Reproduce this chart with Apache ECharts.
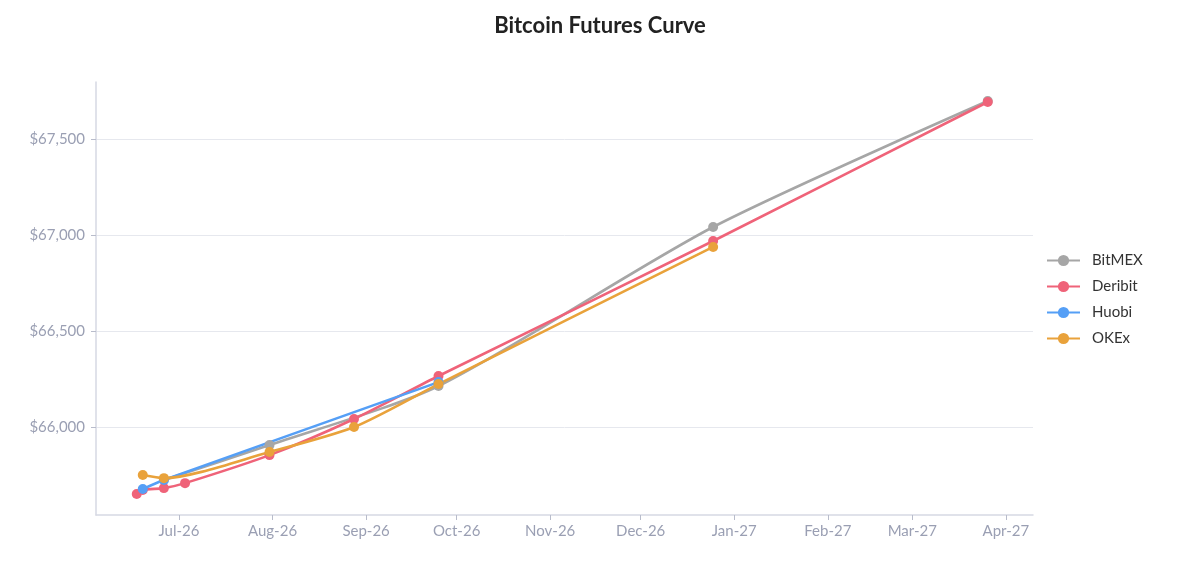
<!DOCTYPE html>
<html>
<head>
<meta charset="utf-8">
<script src="https://cdn.jsdelivr.net/npm/echarts@6/dist/echarts.min.js"></script>
<style>
html,body{margin:0;padding:0;background:#fff;}
#chart{width:1200px;height:584px;}
</style>
</head>
<body>
<div id="chart"></div>
<script>
const seriesNames = ['BitMEX', 'Deribit', 'Huobi', 'OKEx'];
const bitmexDates = ['2026-06-26', '2026-07-31', '2026-09-25', '2026-12-25', '2027-03-26'];
const bitmexValues = [65724, 65906, 66214, 67042, 67698];
const deribitDates = ['2026-06-17', '2026-06-19', '2026-06-26', '2026-07-03', '2026-07-31', '2026-08-28', '2026-09-25', '2026-12-25', '2027-03-26'];
const deribitValues = [65651, 65672, 65682, 65708, 65854, 66042, 66266, 66969, 67693];
const huobiDates = ['2026-06-19', '2026-06-26', '2026-09-25'];
const huobiValues = [65677, 65724, 66234];
const okexDates = ['2026-06-19', '2026-06-26', '2026-07-31', '2026-08-28', '2026-09-25', '2026-12-25'];
const okexValues = [65750, 65734, 65870, 66000, 66224, 66938];
const xTicks = ['2026-07-01', '2026-08-01', '2026-09-01', '2026-10-01', '2026-11-01', '2026-12-01', '2027-01-01', '2027-02-01', '2027-03-01', '2027-04-01'];
const yTicks = [66000, 66500, 67000, 67500];
const colors = ['#a6a6a6', '#ef6379', '#559ff6', '#e9a23b'];

function ts(s) { return Date.parse(s + 'T00:00:00Z'); }
function pts(d, v) { return d.map((x, i) => [ts(x), v[i]]); }
const monthNames = ['Jan','Feb','Mar','Apr','May','Jun','Jul','Aug','Sep','Oct','Nov','Dec'];
function fmtX(v) {
  const d = new Date(v);
  return monthNames[d.getUTCMonth()] + '-' + String(d.getUTCFullYear()).slice(2);
}
function fmtY(v) {
  return '$' + String(Math.round(v)).replace(/\B(?=(\d{3})+(?!\d))/g, ',');
}
const allData = [pts(bitmexDates, bitmexValues), pts(deribitDates, deribitValues), pts(huobiDates, huobiValues), pts(okexDates, okexValues)];
const xTickVals = xTicks.map(ts);
const FONT = 'Lato, "Noto Sans", sans-serif';
const chart = echarts.init(document.getElementById('chart'), null, {renderer: 'canvas'});
chart.setOption({
  animation: false,
  color: colors,
  title: {
    text: 'Bitcoin Futures Curve',
    left: 'center',
    top: 10,
    textStyle: {fontFamily: FONT, fontSize: 22, fontWeight: 'bold', color: '#222'}
  },
  legend: {
    orient: 'vertical',
    left: 1041,
    top: 248,
    itemWidth: 33,
    itemHeight: 14,
    itemGap: 11,
    data: seriesNames,
    textStyle: {fontFamily: FONT, fontSize: 15, color: '#333', padding: [0, 0, 0, 7]}
  },
  grid: {left: 96, top: 82, width: 937, height: 433, containLabel: false},
  xAxis: {
    type: 'value',
    min: ts('2026-06-03') + 12 * 3600000,
    max: ts('2027-04-10'),
    axisLine: {show: true, lineStyle: {color: '#d6d9e3', width: 1.5}},
    axisTick: {show: true, length: 5, lineStyle: {color: '#b8bccb'}, customValues: xTickVals},
    axisLabel: {customValues: xTickVals, formatter: fmtX, fontFamily: FONT, fontSize: 15, color: '#9a9fb3', margin: 9},
    splitLine: {show: false}
  },
  yAxis: {
    type: 'value',
    min: 65542,
    max: 67797,
    axisLine: {show: true, lineStyle: {color: '#d6d9e3', width: 1.5}},
    axisTick: {show: true, length: 5, lineStyle: {color: '#b8bccb'}, customValues: yTicks},
    axisLabel: {customValues: yTicks, formatter: fmtY, fontFamily: FONT, fontSize: 15, color: '#9a9fb3', margin: 11},
    splitLine: {show: true, lineStyle: {color: '#e6e8ee', width: 1}}
  },
  series: seriesNames.map((n, i) => ({
    name: n,
    type: 'line',
    data: allData[i],
    smooth: 0.25,
    symbol: 'circle',
    symbolSize: 10,
    showSymbol: true,
    lineStyle: {width: 2.6, color: colors[i]},
    itemStyle: {color: colors[i]}
  }))
});
</script>
</body>
</html>
